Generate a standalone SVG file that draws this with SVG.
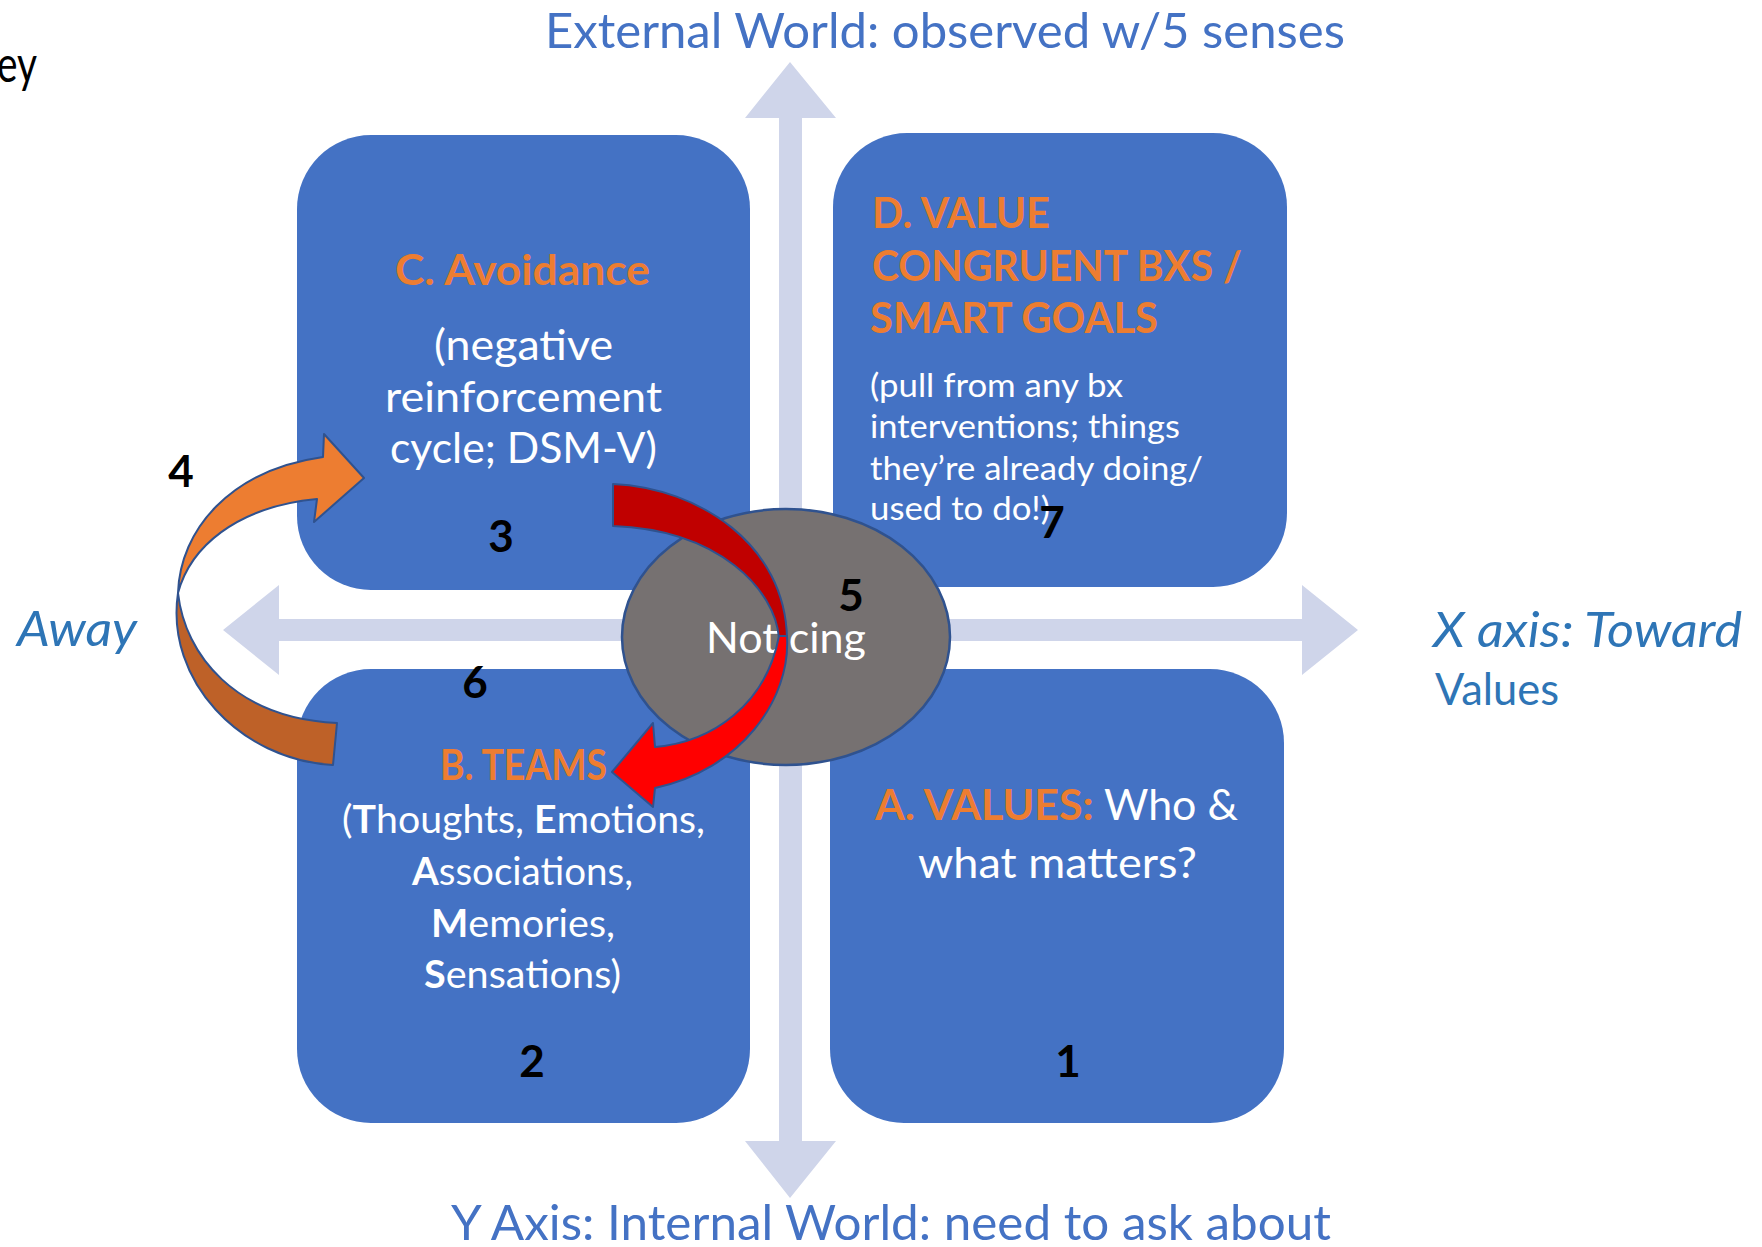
<svg xmlns="http://www.w3.org/2000/svg" width="1762" height="1247" viewBox="0 0 1762 1247">
<style>
  text { font-family: Lato, "Open Sans", "Liberation Sans", sans-serif; }
  .box { fill: #4472C4; }
  .axis { fill: #CFD5EA; }
  .lbl { font-size: 48px; }
  .blue1 { fill: #4472C4; }
  .blue2 { fill: #2E75B6; }
  .head { font-size: 42px; font-weight: bold; fill: #ED7D31; }
  .body { font-size: 42px; fill: #FFFFFF; }
  .bodyb { font-size: 38px; fill: #FFFFFF; }
  .small { font-size: 33px; fill: #FFFFFF; }
  .num { font-size: 44px; font-weight: bold; fill: #000000; text-anchor: middle; }
  .edge { stroke: #2F528F; stroke-width: 2; stroke-linejoin: round; }
</style>

<text x="-3" y="82" font-size="50" fill="#000000" textLength="40" lengthAdjust="spacingAndGlyphs">ey</text>

<g id="axes">
  <path class="axis" d="M779,118 L745,118 L790,62 L836,118 L802,118 L802,1141 L836,1141 L790,1198 L745,1141 L779,1141 Z"/>
  <path class="axis" d="M279,619 L279,585 L223,630 L279,675 L279,641 L1302,641 L1302,675 L1358,630 L1302,585 L1302,619 Z"/>
</g>

<g id="axis-labels">
  <text class="lbl blue1" x="545" y="48" textLength="800" lengthAdjust="spacingAndGlyphs">External World: observed w/5 senses</text>
  <text class="lbl blue1" x="451" y="1240" textLength="880" lengthAdjust="spacingAndGlyphs">Y Axis: Internal World: need to ask about</text>
  <text class="lbl blue2" x="17" y="646" font-style="italic" textLength="120" lengthAdjust="spacingAndGlyphs">Away</text>
  <text class="lbl blue2" x="1433" y="647" font-style="italic" textLength="309" lengthAdjust="spacingAndGlyphs">X axis: Toward</text>
  <text class="blue2" x="1435" y="705" font-size="44" textLength="124" lengthAdjust="spacingAndGlyphs">Values</text>
</g>

<g id="box-c">
  <rect class="box" x="297" y="135" width="453" height="455" rx="74" ry="74"/>
  <text class="head" x="395" y="285" textLength="255" lengthAdjust="spacingAndGlyphs">C. Avoidance</text>
  <text class="body" x="434" y="360" textLength="179" lengthAdjust="spacingAndGlyphs">(negative</text>
  <text class="body" x="385" y="412" textLength="277" lengthAdjust="spacingAndGlyphs">reinforcement</text>
  <text class="body" x="390" y="463" textLength="267" lengthAdjust="spacingAndGlyphs">cycle; DSM-V)</text>
</g>

<g id="box-d">
  <rect class="box" x="833" y="133" width="454" height="454" rx="74" ry="74"/>
  <text class="head" x="872" y="228" textLength="178" lengthAdjust="spacingAndGlyphs">D. VALUE</text>
  <text class="head" x="872" y="281" textLength="370" lengthAdjust="spacingAndGlyphs">CONGRUENT BXS /</text>
  <text class="head" x="870" y="333" textLength="288" lengthAdjust="spacingAndGlyphs">SMART GOALS</text>
  <text class="small" x="870" y="397" textLength="253" lengthAdjust="spacingAndGlyphs">(pull from any bx</text>
  <text class="small" x="870" y="438" textLength="310" lengthAdjust="spacingAndGlyphs">interventions; things</text>
  <text class="small" x="870" y="480" textLength="333" lengthAdjust="spacingAndGlyphs">they’re already doing/</text>
  <text class="small" x="870" y="520" textLength="180" lengthAdjust="spacingAndGlyphs">used to do!)</text>
</g>

<g id="box-b">
  <rect class="box" x="297" y="669" width="453" height="454" rx="74" ry="74"/>
  <text class="head" x="440" y="780" font-size="38" textLength="167" lengthAdjust="spacingAndGlyphs">B. TEAMS</text>
  <text class="bodyb" x="342" y="833" textLength="363" lengthAdjust="spacingAndGlyphs">(<tspan font-weight="bold">T</tspan>houghts, <tspan font-weight="bold">E</tspan>motions,</text>
  <text class="bodyb" x="412" y="885" textLength="221" lengthAdjust="spacingAndGlyphs"><tspan font-weight="bold">A</tspan>ssociations,</text>
  <text class="bodyb" x="431" y="937" textLength="184" lengthAdjust="spacingAndGlyphs"><tspan font-weight="bold">M</tspan>emories,</text>
  <text class="bodyb" x="424" y="988" textLength="197" lengthAdjust="spacingAndGlyphs"><tspan font-weight="bold">S</tspan>ensations)</text>
</g>

<g id="box-a">
  <rect class="box" x="830" y="669" width="454" height="454" rx="74" ry="74"/>
  <text class="body" x="875" y="820" textLength="363" lengthAdjust="spacingAndGlyphs"><tspan font-weight="bold" fill="#ED7D31">A. VALUES:</tspan> Who &amp;</text>
  <text class="body" x="918" y="878" textLength="279" lengthAdjust="spacingAndGlyphs">what matters?</text>
</g>

<g id="noticing">
  <ellipse cx="786" cy="637" rx="164" ry="128" fill="#767171" stroke="#2F528F" stroke-width="2.5"/>
  <text x="706" y="653" font-size="42" fill="#FFFFFF" textLength="160" lengthAdjust="spacingAndGlyphs">Noticing</text>
</g>

<g id="connectors">
  <g id="orange-arrow">
    <path class="edge" fill="#BE6128" d="M178,593 C165,680 240,760 333,765 L337,723 C235,718 185,655 178,593 Z"/>
    <path class="edge" fill="#ED7D31" d="M178,593 C180,530 230,470 323,457 L324,434 L364,478 L314,522 L317,499 C235,507 190,548 178,593 Z"/>
  </g>
  <g id="red-arrow">
    <path class="edge" fill="#C00000" d="M613,484 C700,488 785,545 787,638 L779,638 C775,590 720,530 613,526 Z"/>
    <path class="edge" fill="#FF0000" d="M787,636 C791,700 740,770 655,788 L653,807 L612,772 L653,723 L655,747 C712,742 766,705 779,636 Z"/>
  </g>
</g>

<g id="numbers">
  <text class="num" x="181" y="487">4</text>
  <text class="num" x="501" y="552">3</text>
  <text class="num" x="475" y="698">6</text>
  <text class="num" x="851" y="611">5</text>
  <text class="num" x="532" y="1077">2</text>
  <text class="num" x="1068" y="1077">1</text>
  <text class="num" x="1052" y="538">7</text>
</g>
</svg>
